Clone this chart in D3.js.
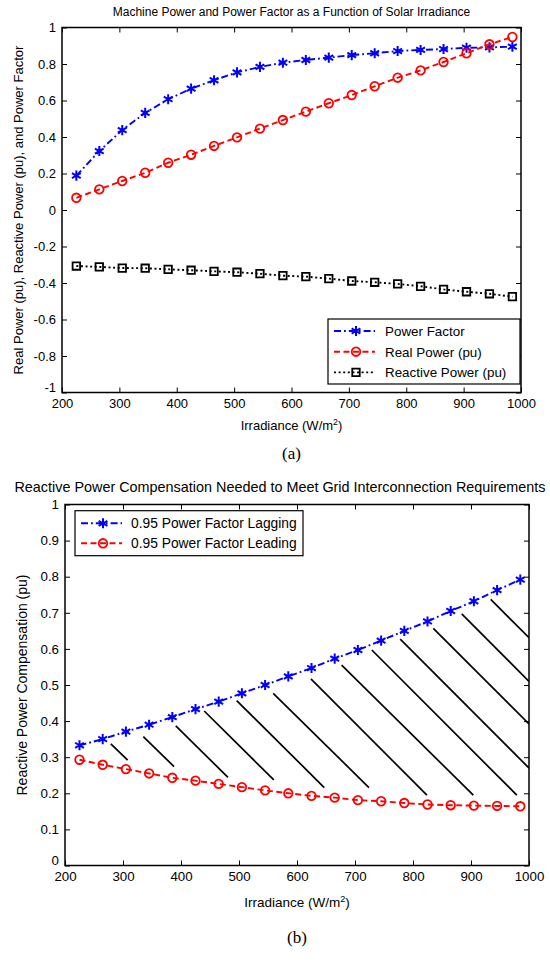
<!DOCTYPE html>
<html>
<head>
<meta charset="utf-8">
<script src="https://cdn.jsdelivr.net/npm/d3@7"></script>
<style>
body { margin: 0; background: #fff; }
svg { display: block; }
</style>
</head>
<body>
<svg id="chart" width="550" height="976"></svg>
<script>
// shared x values (W/m^2)
var irradiance = [225, 265, 305, 345, 385, 425, 465, 505, 545, 585,
                  625, 665, 705, 745, 785, 825, 865, 905, 945, 985];
var xTicks = [200, 300, 400, 500, 600, 700, 800, 900, 1000];

// panel (a)
var powerFactor = [0.188, 0.323, 0.438, 0.532, 0.607, 0.665, 0.711, 0.754, 0.784, 0.807,
                   0.822, 0.835, 0.849, 0.859, 0.871, 0.877, 0.882, 0.889, 0.891, 0.895];
var realPower = [0.067, 0.113, 0.159, 0.204, 0.259, 0.303, 0.351, 0.398, 0.446, 0.493,
                 0.539, 0.585, 0.630, 0.678, 0.725, 0.765, 0.811, 0.859, 0.908, 0.948];
var reactivePower = [-0.307, -0.312, -0.318, -0.319, -0.325, -0.330, -0.336, -0.341, -0.349, -0.360,
                     -0.365, -0.376, -0.389, -0.396, -0.405, -0.418, -0.435, -0.448, -0.459, -0.475];
var yTicksA = [-1, -0.8, -0.6, -0.4, -0.2, 0, 0.2, 0.4, 0.6, 0.8, 1];

// panel (b)
var lagging = [0.333, 0.350, 0.371, 0.390, 0.411, 0.433, 0.454, 0.477, 0.500, 0.524,
               0.547, 0.573, 0.597, 0.623, 0.650, 0.676, 0.705, 0.732, 0.763, 0.792];
var leading = [0.293, 0.279, 0.267, 0.255, 0.243, 0.235, 0.226, 0.217, 0.208, 0.200,
               0.193, 0.188, 0.181, 0.178, 0.173, 0.169, 0.167, 0.166, 0.165, 0.164];
var yTicksB = [0, 0.1, 0.2, 0.3, 0.4, 0.5, 0.6, 0.7, 0.8, 0.9, 1];
// hatch segments between the curves: [x1, y1, x2, y2] in data units
var hatch = [
  [279, 0.337, 308, 0.292],
  [335, 0.357, 388, 0.274],
  [391, 0.387, 481, 0.244],
  [440, 0.428, 560, 0.237],
  [496, 0.457, 647, 0.216],
  [559, 0.477, 724, 0.216],
  [624, 0.517, 824, 0.195],
  [677, 0.555, 904, 0.195],
  [729, 0.597, 979, 0.195],
  [778, 0.627, 1000, 0.270],
  [835, 0.657, 1000, 0.392],
  [884, 0.697, 1000, 0.510],
  [934, 0.737, 1000, 0.631]
];

var svg = d3.select("#chart");
var sans = "'Liberation Sans', Arial, Helvetica, sans-serif";
var serif = "'Liberation Serif', 'Times New Roman', serif";

var styles = {
  star:   { color: "#0000ff", dash: "7,3,1.8,3", symbol: d3.symbolAsterisk, size: 72, sw: 2 },
  circle: { color: "#ff0000", dash: "6,3.5", symbol: d3.symbolCircle, size: 58, sw: 1.8 },
  square: { color: "#000000", dash: "2,2.6", symbol: d3.symbolSquare, size: 56, sw: 1.8 }
};

function fmt(d) { return String(+d.toFixed(1)); }

function drawPanel(p) {
  var x = d3.scaleLinear().domain([200, 1000]).range([p.left, p.right]);
  var y = d3.scaleLinear().domain(p.yDomain).range([p.bottom, p.top]);
  var g = svg.append("g");
  var fs = p.fs;

  var clipId = "clip" + p.id;
  svg.append("clipPath").attr("id", clipId)
    .append("rect")
    .attr("x", p.left).attr("y", p.top)
    .attr("width", p.right - p.left).attr("height", p.bottom - p.top);

  // axes with inward ticks, MATLAB style
  g.append("g")
    .attr("class", "xaxis")
    .attr("transform", "translate(0," + p.bottom + ")")
    .call(d3.axisBottom(x).tickValues(xTicks).tickSizeInner(-5).tickSizeOuter(0).tickPadding(6).tickFormat(d3.format("d")));
  g.append("g")
    .attr("transform", "translate(0," + p.top + ")")
    .call(d3.axisTop(x).tickValues(xTicks).tickSizeInner(-5).tickSizeOuter(0).tickFormat(""));
  g.append("g")
    .attr("class", "yaxis")
    .attr("transform", "translate(" + p.left + ",0)")
    .call(d3.axisLeft(y).tickValues(p.yTicks).tickSizeInner(-5).tickSizeOuter(0).tickPadding(6).tickFormat(fmt));
  g.append("g")
    .attr("transform", "translate(" + p.right + ",0)")
    .call(d3.axisRight(y).tickValues(p.yTicks).tickSizeInner(-5).tickSizeOuter(0).tickFormat(""));

  g.selectAll(".domain").remove();
  g.selectAll(".tick line").attr("stroke", "#000").attr("stroke-width", 1);
  g.selectAll(".tick text").attr("font-family", sans).attr("font-size", fs.tick + "px").attr("fill", "#000");
  // lowest y label sits a little higher, as in the original
  g.select(".yaxis").selectAll(".tick text")
    .filter(function(d) { return d === p.yDomain[0]; })
    .attr("dy", "-0.05em");

  g.append("rect")
    .attr("x", p.left).attr("y", p.top)
    .attr("width", p.right - p.left).attr("height", p.bottom - p.top)
    .attr("fill", "none").attr("stroke", "#000").attr("stroke-width", 1.5);

  // hatch
  if (p.hatch) {
    g.append("g").attr("clip-path", "url(#" + clipId + ")")
      .selectAll("line").data(p.hatch).enter().append("line")
      .attr("x1", function(d) { return x(d[0]); })
      .attr("y1", function(d) { return y(d[1]); })
      .attr("x2", function(d) { return x(d[2]); })
      .attr("y2", function(d) { return y(d[3]); })
      .attr("stroke", "#000").attr("stroke-width", 1.7);
  }

  // series
  var line = d3.line()
    .x(function(d) { return x(d[0]); })
    .y(function(d) { return y(d[1]); });

  p.series.forEach(function(s) {
    var st = styles[s.marker];
    var pts = irradiance.map(function(v, i) { return [v, s.values[i]]; });
    g.append("path")
      .datum(pts)
      .attr("d", line)
      .attr("fill", "none")
      .attr("stroke", st.color)
      .attr("stroke-width", 1.9)
      .attr("stroke-dasharray", st.dash);
    g.append("g").selectAll("path").data(pts).enter().append("path")
      .attr("transform", function(d) { return "translate(" + x(d[0]) + "," + y(d[1]) + ")"; })
      .attr("d", d3.symbol().type(st.symbol).size(st.size))
      .attr("fill", "none")
      .attr("stroke", st.color)
      .attr("stroke-width", st.sw);
  });

  // legend
  var L = p.legend;
  var lg = g.append("g");
  lg.append("rect")
    .attr("x", L.x).attr("y", L.y).attr("width", L.w).attr("height", L.h)
    .attr("fill", "#fff").attr("stroke", "#000").attr("stroke-width", 1.2);
  p.series.forEach(function(s, i) {
    var st = styles[s.marker];
    var cy = L.y + L.first + i * L.step;
    lg.append("line")
      .attr("x1", L.x + 6).attr("x2", L.x + 47).attr("y1", cy).attr("y2", cy)
      .attr("stroke", st.color).attr("stroke-width", 1.9).attr("stroke-dasharray", st.dash);
    lg.append("path")
      .attr("transform", "translate(" + (L.x + 28) + "," + cy + ")")
      .attr("d", d3.symbol().type(st.symbol).size(st.size))
      .attr("fill", "none").attr("stroke", st.color).attr("stroke-width", st.sw);
    lg.append("text")
      .attr("x", L.x + L.textDx).attr("y", cy + 4.8)
      .attr("font-family", sans).attr("font-size", fs.legend + "px")
      .text(s.name);
  });

  // titles
  var cx = (p.left + p.right) / 2;
  svg.append("text")
    .attr("x", p.titleX).attr("y", p.titleY)
    .attr("text-anchor", "middle").attr("font-family", sans).attr("font-size", fs.title + "px")
    .text(p.title);

  var xl = svg.append("text")
    .attr("x", cx).attr("y", p.bottom + p.xlabelDy)
    .attr("text-anchor", "middle").attr("font-family", sans).attr("font-size", fs.label + "px");
  xl.append("tspan").text("Irradiance (W/m");
  xl.append("tspan").attr("font-size", (fs.label * 0.68) + "px").attr("dy", -5).text("2");
  xl.append("tspan").attr("dy", 5).text(")");

  svg.append("text")
    .attr("transform", "translate(" + p.ylabelX + "," + ((p.top + p.bottom) / 2) + ") rotate(-90)")
    .attr("text-anchor", "middle").attr("font-family", sans).attr("font-size", fs.ylabel + "px")
    .text(p.ylabel);

  svg.append("text")
    .attr("x", cx).attr("y", p.captionY)
    .attr("text-anchor", "middle").attr("font-family", serif).attr("font-size", "17px")
    .text(p.caption);
}

drawPanel({
  id: "a", left: 62, right: 521, top: 27.5, bottom: 392.5,
  yDomain: [-1, 1], yTicks: yTicksA,
  fs: { tick: 13, legend: 13.4, title: 12, label: 13, ylabel: 13 },
  title: "Machine Power and Power Factor as a Function of Solar Irradiance", titleX: 291.5, titleY: 16,
  ylabel: "Real Power (pu), Reactive Power (pu), and Power Factor", ylabelX: 23,
  xlabelDy: 37, caption: "(a)", captionY: 459,
  series: [
    { name: "Power Factor", values: powerFactor, marker: "star" },
    { name: "Real Power (pu)", values: realPower, marker: "circle" },
    { name: "Reactive Power (pu)", values: reactivePower, marker: "square" }
  ],
  legend: { x: 328, y: 319, w: 192, h: 65, first: 12, step: 20.7, textDx: 57 }
});

drawPanel({
  id: "b", left: 65, right: 529, top: 504.5, bottom: 865.5,
  yDomain: [0, 1], yTicks: yTicksB,
  fs: { tick: 13.3, legend: 13.8, title: 14.4, label: 13.5, ylabel: 14 },
  title: "Reactive Power Compensation Needed to Meet Grid Interconnection Requirements", titleX: 280, titleY: 492,
  ylabel: "Reactive Power Compensation (pu)", ylabelX: 27,
  xlabelDy: 41, caption: "(b)", captionY: 943,
  hatch: hatch,
  series: [
    { name: "0.95 Power Factor Lagging", values: lagging, marker: "star" },
    { name: "0.95 Power Factor Leading", values: leading, marker: "circle" }
  ],
  legend: { x: 75, y: 510.7, w: 228, h: 45, first: 12.6, step: 20, textDx: 56 }
});
</script>
</body>
</html>
